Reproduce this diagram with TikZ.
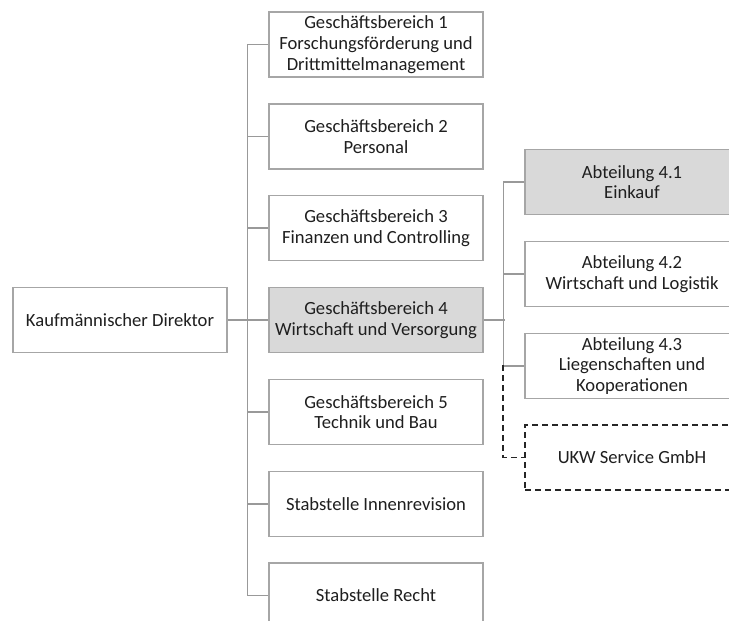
\documentclass[tikz,border=0pt]{standalone}
\usepackage{fontspec}
\setmainfont{Carlito}
\definecolor{boxline}{HTML}{A6A6A6}
\definecolor{conn}{HTML}{999999}
\definecolor{grayfill}{HTML}{D9D9D9}
\definecolor{txt}{HTML}{1F1F1F}
\definecolor{dashc}{HTML}{262626}
\begin{document}
\begin{tikzpicture}[x=1pt,y=-1pt,
  unit/.style={draw=boxline, line width=1.5pt, fill=white, minimum width=214pt, minimum height=65pt,
    inner sep=0pt, align=center, text=txt,
    font=\fontsize{18.6pt}{20.7pt}\selectfont},
  hl/.style={unit, fill=grayfill},
  ext/.style={unit, draw=dashc, dash pattern=on 6pt off 4pt},
  conn/.style={draw=conn, line width=1.5pt},
  dconn/.style={draw=dashc, line width=1.8pt, dash pattern=on 6pt off 4pt}]
\useasboundingbox (0,0) rectangle (729,621);
\clip (0,0) rectangle (729,621);
\node[unit] (dir) at (120,320) {Kaufmännischer Direktor};
\node[unit] (gb1) at (376,44.5) {Geschäftsbereich 1\\Forschungsförderung und\\Drittmittelmanagement};
\node[unit] (gb2) at (376,136.5) {Geschäftsbereich 2\\Personal};
\node[unit] (gb3) at (376,228) {Geschäftsbereich 3\\Finanzen und Controlling};
\node[hl] (gb4) at (376,320) {Geschäftsbereich 4\\Wirtschaft und Versorgung};
\node[unit] (gb5) at (376,412) {Geschäftsbereich 5\\Technik und Bau};
\node[unit] (ir) at (376,504) {Stabstelle Innenrevision};
\node[unit] (re) at (376,595.5) {Stabstelle Recht};
\node[hl] (a41) at (632,182) {Abteilung 4.1\\Einkauf};
\node[unit] (a42) at (632,274) {Abteilung 4.2\\Wirtschaft und Logistik};
\node[unit] (a43) at (632,366) {Abteilung 4.3\\Liegenschaften und\\Kooperationen};
\node[ext] (ukw) at (632,457.5) {UKW Service GmbH};
% connectors
\draw[conn] (dir.east) -- (gb4.west);
\draw[conn] (gb1.west) -- ++(-21,0) |- (re.west);
\draw[conn] (gb2.west) -- ++(-21,0);
\draw[conn] (gb3.west) -- ++(-21,0);
\draw[conn] (gb5.west) -- ++(-21,0);
\draw[conn] (ir.west) -- ++(-21,0);
\draw[conn] (gb4.east) -- ++(21,0);
\draw[conn] (a41.west) -- ++(-21,0) |- (a43.west);
\draw[conn] (a42.west) -- ++(-21,0);
\draw[dconn] ([xshift=-21pt,yshift=1pt]a43.west) |- (ukw.west);
\end{tikzpicture}
\end{document}
